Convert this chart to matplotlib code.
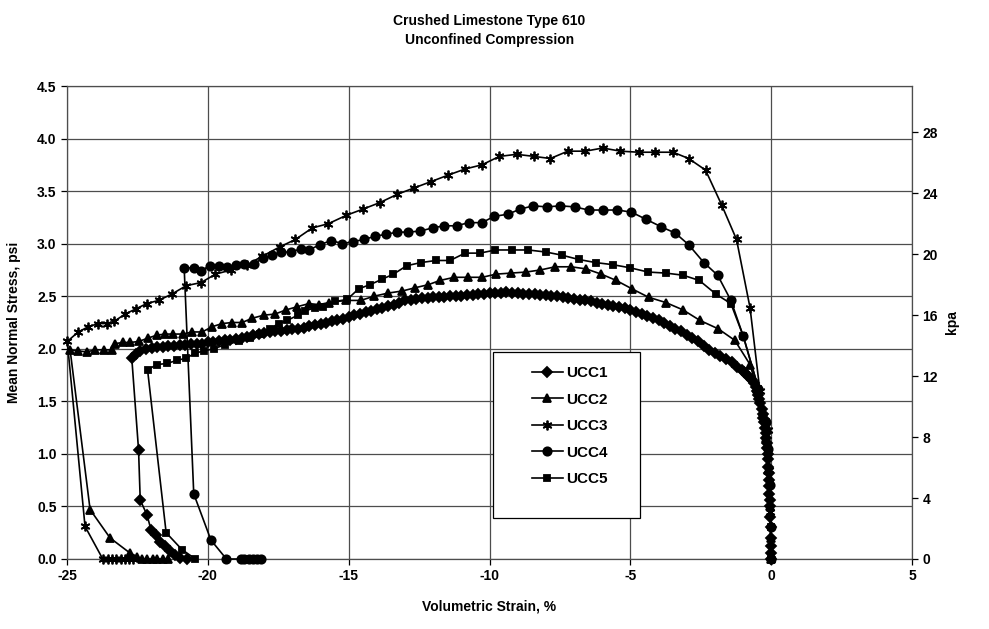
import numpy as np
import matplotlib
matplotlib.use('Agg')
import matplotlib.pyplot as plt
from matplotlib.patches import Rectangle

plt.rcParams['font.family'] = ['Liberation Sans', 'DejaVu Sans']
plt.rcParams['font.weight'] = 'bold'
plt.rcParams['axes.unicode_minus'] = False

PSI_TO_KPA = 6.895

# UCC1 (diamonds), read from 0 strain outward - dense series
ucc1_x = [0.0, 0.0, 0.0, -0.01, -0.02, -0.03, -0.04, -0.05, -0.06, -0.07, -0.08, -0.09, -0.1,
          -0.12, -0.13, -0.15, -0.16, -0.18, -0.2, -0.23, -0.25, -0.28, -0.3, -0.34, -0.38,
          -0.42, -0.45, -0.5, -0.55, -0.62, -0.69, -0.77, -0.85, -0.95, -1.05,
          -1.2, -1.4, -1.6, -1.8, -2.0, -2.2, -2.4, -2.6, -2.8, -3.0, -3.2, -3.4, -3.6, -3.8,
          -4.0, -4.2, -4.4, -4.6, -4.8, -5.0, -5.2, -5.4, -5.6, -5.8, -6.0, -6.2, -6.4, -6.6,
          -6.8, -7.0, -7.2, -7.4, -7.6, -7.8, -8.0, -8.2, -8.4, -8.6, -8.8, -9.0, -9.2, -9.4,
          -9.6, -9.8, -10.0, -10.2, -10.4, -10.6, -10.8, -11.0, -11.2, -11.4, -11.6, -11.8,
          -12.0, -12.2, -12.4, -12.6, -12.8, -13.0, -13.2, -13.4, -13.6, -13.8, -14.0, -14.2,
          -14.4, -14.6, -14.8, -15.0, -15.2, -15.4, -15.6, -15.8, -16.0, -16.2, -16.4, -16.6,
          -16.8, -17.0, -17.2, -17.4, -17.6, -17.8, -18.0, -18.2, -18.4, -18.6, -18.8, -19.0,
          -19.2, -19.4, -19.6, -19.8, -20.0, -20.2, -20.4, -20.6, -20.8, -21.0, -21.2, -21.4,
          -21.6, -21.8, -22.0, -22.2, -22.4, -22.55, -22.7,
          -22.46, -22.4, -22.16, -22.02, -21.83, -21.69, -21.51, -21.33, -21.16, -20.98, -20.74]
ucc1_y = [0.0, 0.06, 0.12, 0.2, 0.3, 0.4, 0.5, 0.56, 0.62, 0.69, 0.75, 0.82, 0.88,
          0.95, 1.0, 1.06, 1.1, 1.15, 1.2, 1.25, 1.3, 1.34, 1.38, 1.43, 1.48,
          1.52, 1.56, 1.6, 1.64, 1.67, 1.70, 1.73, 1.75, 1.78, 1.80,
          1.83, 1.87, 1.90, 1.93, 1.96, 1.99, 2.03, 2.07, 2.10, 2.13, 2.17, 2.19, 2.22, 2.25,
          2.27, 2.29, 2.31, 2.33, 2.35, 2.37, 2.39, 2.40, 2.41, 2.42, 2.43, 2.44, 2.45, 2.46,
          2.46, 2.47, 2.48, 2.49, 2.50, 2.50, 2.51, 2.51, 2.52, 2.52, 2.52, 2.53, 2.53, 2.54,
          2.53, 2.53, 2.53, 2.52, 2.52, 2.51, 2.51, 2.50, 2.50, 2.50, 2.49, 2.49,
          2.49, 2.48, 2.48, 2.47, 2.46, 2.46, 2.44, 2.42, 2.41, 2.39, 2.38, 2.36,
          2.35, 2.33, 2.32, 2.30, 2.28, 2.27, 2.26, 2.25, 2.24, 2.23, 2.22, 2.20,
          2.19, 2.19, 2.18, 2.17, 2.17, 2.16, 2.15, 2.14, 2.13, 2.11, 2.10, 2.09,
          2.08, 2.08, 2.07, 2.06, 2.06, 2.05, 2.05, 2.05, 2.04, 2.04, 2.03, 2.03,
          2.02, 2.02, 2.01, 2.00, 1.98, 1.95, 1.91,
          1.04, 0.56, 0.42, 0.28, 0.23, 0.16, 0.12, 0.08, 0.04, 0.01, 0.0]

# UCC2 (triangles)
ucc2_x = [0.0, -0.02, -0.05, -0.1, -0.18, -0.3, -0.5, -0.75, -1.29, -1.88, -2.53, -3.13, -3.74,
          -4.35, -4.94, -5.50, -6.03, -6.57, -7.10, -7.67, -8.19, -8.70, -9.24, -9.77, -10.26,
          -10.78, -11.25, -11.76, -12.17, -12.65, -13.09, -13.6, -14.1, -14.57, -15.1, -15.7,
          -16.05, -16.41, -16.83, -17.22, -17.62, -18.01, -18.43, -18.78, -19.13, -19.49, -19.85,
          -20.2, -20.56, -20.89, -21.22, -21.51, -21.81, -22.14, -22.45, -22.75, -23.0, -23.29,
          -23.4, -23.7, -24.0, -24.3, -24.6, -24.89,
          -24.18, -23.47, -22.78, -22.5, -22.34, -22.15, -21.95, -21.8, -21.6, -21.4]
ucc2_y = [0.0, 0.2, 0.5, 0.85, 1.15, 1.4, 1.62, 1.85, 2.08, 2.19, 2.27, 2.37, 2.44,
          2.49, 2.57, 2.65, 2.71, 2.76, 2.78, 2.78, 2.75, 2.73, 2.72, 2.71, 2.68,
          2.68, 2.68, 2.65, 2.61, 2.58, 2.55, 2.53, 2.50, 2.46, 2.46, 2.44,
          2.42, 2.43, 2.40, 2.37, 2.33, 2.32, 2.29, 2.25, 2.25, 2.24, 2.21,
          2.16, 2.16, 2.14, 2.14, 2.14, 2.13, 2.10, 2.07, 2.06, 2.06, 2.05,
          1.99, 1.99, 1.99, 1.97, 1.98, 1.99,
          0.47, 0.20, 0.06, 0.02, 0.0, 0.0, 0.0, 0.0, 0.0, 0.0]

# UCC3 (asterisks)
ucc3_x = [0.0, -0.03, -0.07, -0.1, -0.4, -0.75, -1.23, -1.76, -2.33, -2.93, -3.48, -4.11, -4.71,
          -5.35, -5.98, -6.60, -7.22, -7.84, -8.41, -9.04, -9.65, -10.27, -10.87, -11.49, -12.08,
          -12.68, -13.27, -13.90, -14.48, -15.08, -15.72, -16.29, -16.89, -17.44, -18.07, -18.6,
          -19.17, -19.73, -20.24, -20.77, -21.28, -21.75, -22.17, -22.55, -22.94, -23.33, -23.59,
          -23.89, -24.24, -24.6, -24.99,
          -24.36, -23.73, -23.55, -23.4, -23.25, -23.1, -22.95, -22.8, -22.65]
ucc3_y = [0.0, 0.45, 0.85, 1.23, 1.6, 2.39, 3.04, 3.37, 3.70, 3.81, 3.87, 3.87, 3.87,
          3.88, 3.91, 3.88, 3.88, 3.81, 3.83, 3.85, 3.83, 3.75, 3.71, 3.65, 3.59,
          3.53, 3.47, 3.39, 3.33, 3.27, 3.19, 3.15, 3.04, 2.97, 2.88, 2.80,
          2.75, 2.71, 2.63, 2.60, 2.52, 2.46, 2.43, 2.38, 2.33, 2.26, 2.24,
          2.24, 2.21, 2.16, 2.07,
          0.31, 0.0, 0.0, 0.0, 0.0, 0.0, 0.0, 0.0, 0.0]

# UCC4 (circles)
ucc4_x = [0.0, -0.02, -0.05, -0.1, -0.2, -0.45, -0.99, -1.43, -1.90, -2.39, -2.93, -3.40, -3.90,
          -4.43, -4.96, -5.46, -5.97, -6.48, -6.98, -7.48, -7.97, -8.44, -8.90, -9.35, -9.83,
          -10.27, -10.74, -11.17, -11.61, -12.02, -12.46, -12.88, -13.27, -13.66, -14.07, -14.45,
          -14.83, -15.22, -15.62, -16.02, -16.41, -16.71, -17.06, -17.42, -17.72, -18.04, -18.37,
          -18.7, -19.0, -19.32, -19.62, -19.94, -20.25, -20.5, -20.84,
          -20.5, -19.89, -19.34, -18.84, -18.7, -18.55, -18.4, -18.25, -18.13]
ucc4_y = [0.0, 0.3, 0.7, 1.05, 1.3, 1.62, 2.12, 2.46, 2.70, 2.82, 2.99, 3.10, 3.16,
          3.23, 3.30, 3.32, 3.32, 3.32, 3.35, 3.36, 3.35, 3.36, 3.33, 3.28, 3.26,
          3.20, 3.20, 3.17, 3.17, 3.15, 3.12, 3.11, 3.11, 3.09, 3.07, 3.04,
          3.02, 3.00, 3.03, 2.99, 2.94, 2.95, 2.92, 2.92, 2.89, 2.86, 2.81,
          2.81, 2.80, 2.78, 2.79, 2.79, 2.74, 2.77, 2.77,
          0.62, 0.18, 0.0, 0.0, 0.0, 0.0, 0.0, 0.0, 0.0]

# UCC5 (squares)
ucc5_x = [0.0, -0.02, -0.05, -0.1, -0.2, -0.45, -0.99, -1.43, -1.96, -2.55, -3.13, -3.74, -4.37,
          -5.0, -5.62, -6.23, -6.84, -7.42, -7.99, -8.62, -9.20, -9.79, -10.34, -10.87, -11.40,
          -11.90, -12.44, -12.94, -13.41, -13.83, -14.24, -14.65, -15.05, -15.47, -15.9, -16.2,
          -16.55, -16.8, -17.18, -17.48, -17.8, -18.15, -18.5, -18.9, -19.38, -19.79, -20.12,
          -20.44, -20.77, -21.1, -21.45, -21.81, -22.14,
          -21.48, -20.92, -20.44]
ucc5_y = [0.0, 0.3, 0.7, 1.05, 1.3, 1.62, 2.12, 2.43, 2.52, 2.65, 2.70, 2.72, 2.73,
          2.77, 2.80, 2.82, 2.85, 2.89, 2.92, 2.94, 2.94, 2.94, 2.91, 2.91, 2.84,
          2.84, 2.82, 2.79, 2.71, 2.66, 2.61, 2.57, 2.47, 2.45, 2.40, 2.39,
          2.36, 2.32, 2.27, 2.24, 2.19, 2.14, 2.10, 2.07, 2.04, 2.00, 1.98,
          1.96, 1.91, 1.89, 1.86, 1.85, 1.80,
          0.25, 0.09, 0.0]

series = [
    ('UCC1', ucc1_x, ucc1_y, 'D', 5.0),
    ('UCC2', ucc2_x, ucc2_y, '^', 6.0),
    ('UCC3', ucc3_x, ucc3_y, (6, 2, 0), 7.0),
    ('UCC4', ucc4_x, ucc4_y, 'o', 6.0),
    ('UCC5', ucc5_x, ucc5_y, 's', 5.0),
]

x_ticks = [-25, -20, -15, -10, -5, 0, 5]
y_ticks = [0.0, 0.5, 1.0, 1.5, 2.0, 2.5, 3.0, 3.5, 4.0, 4.5]
kpa_ticks = [0, 4, 8, 12, 16, 20, 24, 28]

fig = plt.figure(figsize=(9.89, 6.29), dpi=100)
ax = fig.add_axes([67/989, 1 - 559/629, 845/989, 473/629])

for name, xs, ys, mk, ms in series:
    ax.plot(xs, ys, color='black', lw=1.2, marker=mk, ms=ms, mew=1.3,
            mfc='black', mec='black', label=name, clip_on=False, zorder=3)

ax.set_xlim(-25, 5)
ax.set_ylim(0, 4.5)
ax.set_xticks(x_ticks)
ax.set_yticks(y_ticks)
ax.set_yticklabels(['%.1f' % v for v in y_ticks])
ax.grid(True, color='0.3', lw=0.9)
ax.set_axisbelow(True)
for s in ax.spines.values():
    s.set_color('0.3')
    s.set_linewidth(0.9)
ax.tick_params(labelsize=10, length=4, width=0.9, direction='out')
for lab in ax.get_xticklabels() + ax.get_yticklabels():
    lab.set_fontweight('bold')

ax.set_xlabel('Volumetric Strain, %', fontsize=10, fontweight='bold')
ax.xaxis.set_label_coords(0.5, -0.085)
ax.set_ylabel('Mean Normal Stress, psi', fontsize=10, fontweight='bold')
ax.yaxis.set_label_coords(-0.054, 0.5)
ax.set_title('Crushed Limestone Type 610\nUnconfined Compression', fontsize=10,
             fontweight='bold', pad=30, linespacing=1.45)

ax2 = ax.twinx()
ax2.set_ylim(0, 4.5 * PSI_TO_KPA)
ax2.set_yticks(kpa_ticks)
ax2.tick_params(labelsize=10, length=4, width=0.9, direction='out')
for lab in ax2.get_yticklabels():
    lab.set_fontweight('bold')
for s in ax2.spines.values():
    s.set_visible(False)
ax2.set_ylabel('kpa', fontsize=10, fontweight='bold')
ax2.yaxis.set_label_coords(1.039, 0.5)

# legend box with extra empty space at bottom
ax.add_patch(Rectangle((0.504, 0.0867), 0.174, 0.351, transform=ax.transAxes,
                       facecolor='white', edgecolor='black', lw=0.9, zorder=4))
leg = ax.legend(loc='upper left', bbox_to_anchor=(0.543, 0.421), frameon=False,
                fontsize=11, handlelength=2.0, handletextpad=0.25, labelspacing=0.82,
                borderaxespad=0)
leg.set_zorder(5)
for t in leg.get_texts():
    t.set_fontweight('bold')

plt.savefig('out.png', dpi=100)
